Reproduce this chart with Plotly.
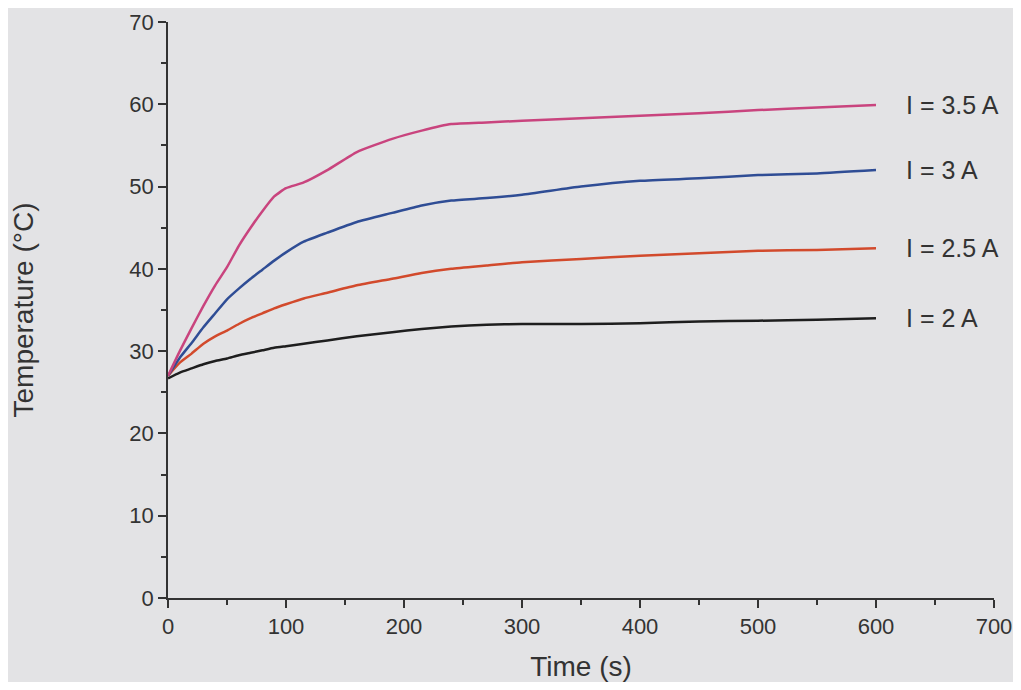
import plotly.graph_objects as go

# time axis (s) shared by all curves
time_s = [0, 10, 20, 30, 40, 50, 60, 70, 80, 90, 100, 115, 135, 160, 190, 215, 240,
          270, 300, 350, 400, 450, 500, 550, 600]

temp_2a = [26.7, 27.4, 27.9, 28.4, 28.8, 29.1, 29.5, 29.8, 30.1, 30.4, 30.6, 30.9, 31.3,
           31.8, 32.3, 32.7, 33.0, 33.2, 33.3, 33.3, 33.4, 33.6, 33.7, 33.8, 34.0]
temp_25a = [27.0, 28.6, 29.7, 30.9, 31.8, 32.5, 33.3, 34.0, 34.6, 35.2, 35.7, 36.4, 37.1,
            38.0, 38.8, 39.5, 40.0, 40.4, 40.8, 41.2, 41.6, 41.9, 42.2, 42.3, 42.5]
temp_3a = [27.0, 29.2, 31.0, 32.9, 34.6, 36.3, 37.6, 38.8, 39.9, 41.0, 42.0, 43.3, 44.4,
           45.7, 46.8, 47.7, 48.3, 48.6, 49.0, 50.0, 50.7, 51.0, 51.4, 51.6, 52.0]
temp_35a = [27.0, 30.0, 32.8, 35.5, 38.0, 40.2, 42.8, 45.0, 47.0, 48.8, 49.8, 50.5, 52.0,
            54.2, 55.8, 56.8, 57.6, 57.8, 58.0, 58.3, 58.6, 58.9, 59.3, 59.6, 59.9]

labels = ["I = 2 A", "I = 2.5 A", "I = 3 A", "I = 3.5 A"]
series = [temp_2a, temp_25a, temp_3a, temp_35a]
colors = ["#1e1e1e", "#d24a2c", "#2f4d95", "#c9447e"]

x_ticks = [0, 100, 200, 300, 400, 500, 600, 700]
y_ticks = [0, 10, 20, 30, 40, 50, 60, 70]

bg = "#e3e3e5"
ink = "#333333"

fig = go.Figure()
for name, ys, c in zip(labels, series, colors):
    fig.add_trace(go.Scatter(x=time_s, y=ys, mode="lines", name=name,
                             line=dict(color=c, width=2.5, shape="spline", smoothing=0.5),
                             showlegend=False))
    fig.add_annotation(x=624, y=ys[-1], text=name, showarrow=False,
                       xanchor="left", yanchor="middle",
                       font=dict(size=25, color=ink))

axis_common = dict(
    showgrid=False, zeroline=False, showline=True, linecolor=ink, linewidth=1.5,
    ticks="outside", ticklen=8, tickwidth=1.5, tickcolor=ink,
    tickfont=dict(size=22, color=ink), automargin=False,
)

fig.update_xaxes(range=[0, 700], tickvals=x_ticks,
                 minor=dict(dtick=50, ticks="outside", ticklen=5, tickwidth=1.5, tickcolor=ink),
                 title=dict(text="Time (s)", font=dict(size=28, color=ink), standoff=18),
                 **axis_common)
fig.update_yaxes(range=[0, 70], tickvals=y_ticks,
                 minor=dict(dtick=5, ticks="outside", ticklen=5, tickwidth=1.5, tickcolor=ink),
                 title=dict(text="Temperature (°C)", font=dict(size=28, color=ink), standoff=88),
                 **axis_common)

fig.update_layout(
    width=1010, height=674,
    margin=dict(l=160, r=24, t=14, b=84),
    paper_bgcolor=bg, plot_bgcolor=bg,
    font=dict(family="Liberation Sans, Arial, sans-serif", color=ink),
)

fig.write_html("out.html")
